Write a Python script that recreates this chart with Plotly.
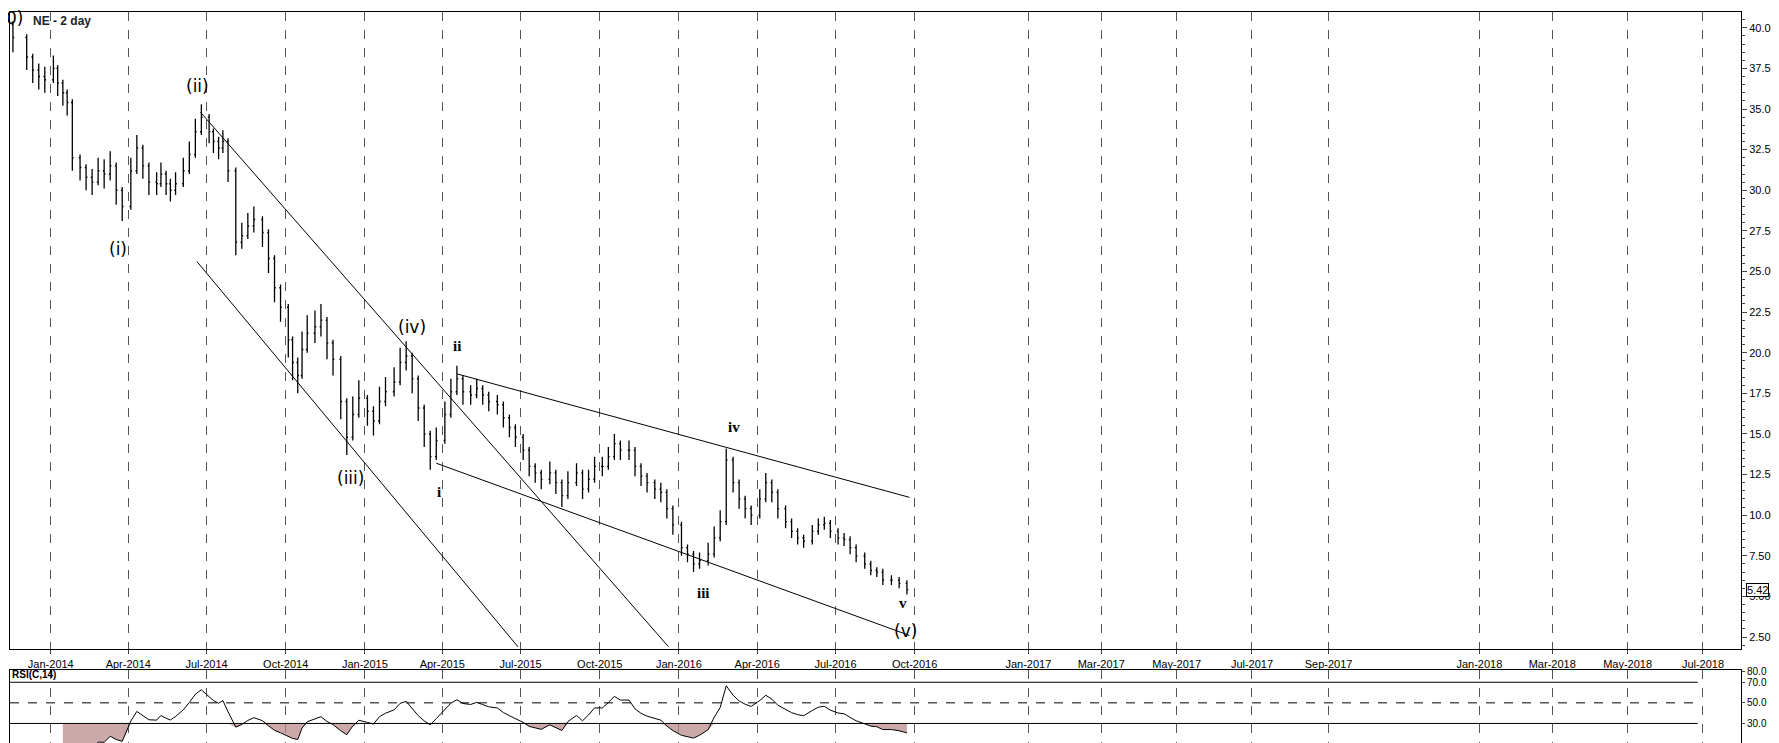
import pandas as pd
import numpy as np
import plotly.graph_objects as go

# weekly closes, grouped by month
months = ['2013-11', '2013-12', '2014-01', '2014-02', '2014-03', '2014-04', '2014-05', '2014-06',
          '2014-07', '2014-08', '2014-09', '2014-10', '2014-11', '2014-12', '2015-01', '2015-02',
          '2015-03', '2015-04', '2015-05', '2015-06', '2015-07', '2015-08', '2015-09', '2015-10',
          '2015-11', '2015-12', '2016-01', '2016-02', '2016-03', '2016-04', '2016-05', '2016-06',
          '2016-07', '2016-08', '2016-09']
closes = [
    [40.2, 39.4],
    [38.2, 37.4, 37.0, 36.8],
    [37.5, 36.6, 36.0, 35.4, 32.0],
    [31.4, 30.8, 30.5, 31.2],
    [31.0, 31.5, 30.0, 29.0],
    [31.2, 32.6, 31.5, 30.5],
    [30.4, 31.0, 30.4, 30.0, 30.4],
    [31.2, 32.2, 33.6, 34.5],
    [33.6, 33.0, 32.6, 33.0, 31.2],
    [26.8, 27.2, 27.8, 28.2],
    [27.4, 25.8, 24.0, 22.8],
    [20.8, 19.4, 18.6, 20.2, 21.2],
    [21.6, 22.0, 20.6, 19.6],
    [17.0, 14.8, 16.2, 17.2],
    [16.4, 15.8, 17.0, 17.6],
    [18.2, 19.4, 19.8, 18.4],
    [16.6, 15.0, 13.6, 14.6],
    [16.2, 17.6, 18.4, 17.6],
    [17.4, 17.8, 17.4, 17.0],
    [16.8, 16.0, 15.4, 14.8],
    [14.0, 13.0, 12.6, 12.2],
    [12.6, 12.0, 11.2, 12.0],
    [12.6, 11.6, 12.2, 13.0],
    [13.0, 13.6, 14.4, 14.0],
    [14.0, 13.0, 12.4, 12.0],
    [11.6, 11.4, 10.4, 9.4],
    [8.0, 7.6, 7.0, 7.2],
    [7.6, 8.6, 9.6, 13.4],
    [12.0, 11.0, 10.4, 10.0],
    [11.0, 12.0, 11.4, 10.4],
    [9.6, 9.0, 8.6, 8.4],
    [9.0, 9.4, 9.5, 9.0],
    [8.6, 8.5, 8.0, 7.5],
    [7.0, 6.6, 6.5, 6.0],
    [6.0, 5.8, 5.42],
]
# typical half bar range per month
bar_range = [0.9, 0.8, 0.8, 0.8, 0.9, 0.8, 0.7, 0.8, 0.7, 0.8, 0.9, 1.1, 1.0, 1.1, 0.9, 0.9,
             0.8, 0.8, 0.6, 0.6, 0.6, 0.7, 0.6, 0.6, 0.6, 0.6, 0.5, 0.7, 0.6, 0.6, 0.4, 0.4,
             0.4, 0.3, 0.3]

tick_labels = ['Jan-2014', 'Apr-2014', 'Jul-2014', 'Oct-2014', 'Jan-2015', 'Apr-2015', 'Jul-2015',
               'Oct-2015', 'Jan-2016', 'Apr-2016', 'Jul-2016', 'Oct-2016', 'Jan-2017', 'Mar-2017',
               'May-2017', 'Jul-2017', 'Sep-2017', 'Jan-2018', 'Mar-2018', 'May-2018', 'Jul-2018']

# wave labels: (date, price, text, style)
waves = [('2013-11-20', 40.6, '0)', 'p'), ('2014-03-20', 26.4, '(i)', 'p'), ('2014-06-20', 36.4, '(ii)', 'p'),
         ('2014-12-15', 12.3, '(iii)', 'p'), ('2015-02-25', 21.6, '(iv)', 'p'), ('2016-09-20', 2.9, '(v)', 'p'),
         ('2015-03-28', 11.4, 'i', 's'), ('2015-04-18', 20.4, 'ii', 's'), ('2016-01-30', 5.2, 'iii', 's'),
         ('2016-03-05', 15.4, 'iv', 's'), ('2016-09-18', 4.6, 'v', 's')]

# channel lines: start/end (date, price)
channels = [(('2014-06-24', 34.8), ('2015-12-20', 1.9)),
            (('2014-06-20', 25.6), ('2015-06-28', 1.9)),
            (('2015-04-18', 18.7), ('2016-09-25', 11.1)),
            (('2015-03-25', 13.2), ('2016-09-25', 2.6))]

BASE = pd.Timestamp('2014-01-01')
SPLIT = 1004


def xpos(d):
    days = (pd.Timestamp(d) - BASE).days
    if days <= SPLIT:
        return days * 0.759
    return SPLIT * 0.759 + (days - SPLIT) * 1.09


# spread weekly bars evenly through each month
xs, cl, hi, lo = [], [], [], []
for m, vals, r in zip(months, closes, bar_range):
    start = pd.Timestamp(m + '-01')
    for i, v in enumerate(vals):
        d = start + pd.Timedelta(days=int(3 + i * 28 / len(vals)))
        xs.append(xpos(d))
        cl.append(v)
        hi.append(v + r)
        lo.append(v - r)
op = [cl[0]] + cl[:-1]
hi = [max(h, o + 0.2) for h, o in zip(hi, op)]
lo = [min(l, o - 0.2) for l, o in zip(lo, op)]

# RSI on the weekly closes (smoothed to look like RSI(14) of 2-day bars)
s = pd.Series(cl)
delta = s.diff()
up = delta.clip(lower=0).ewm(alpha=1 / 10, adjust=False).mean()
dn = (-delta.clip(upper=0)).ewm(alpha=1 / 10, adjust=False).mean()
rsi = 100 - 100 / (1 + up / dn)
rsi.iloc[:8] = np.nan
rsi_low = np.where(rsi.isna(), np.nan, np.minimum(rsi, 30))
base30 = np.where(rsi.isna(), np.nan, 30)

fig = go.Figure()
fig.add_trace(go.Ohlc(x=xs, open=op, high=hi, low=lo, close=cl, xaxis='x', yaxis='y',
                      increasing=dict(line=dict(color='black', width=1.3)),
                      decreasing=dict(line=dict(color='black', width=1.3)),
                      tickwidth=0.3, showlegend=False, hoverinfo='skip'))
for (d0, p0), (d1, p1) in channels:
    fig.add_trace(go.Scatter(x=[xpos(d0), xpos(d1)], y=[p0, p1], mode='lines',
                             line=dict(color='black', width=1), showlegend=False, hoverinfo='skip'))

fig.add_trace(go.Scatter(x=xs, y=base30, mode='lines', line=dict(width=0),
                         xaxis='x2', yaxis='y2', showlegend=False, hoverinfo='skip'))
fig.add_trace(go.Scatter(x=xs, y=rsi_low, mode='lines', line=dict(width=0),
                         fill='tonexty', fillcolor='rgba(185,140,140,0.75)',
                         xaxis='x2', yaxis='y2', showlegend=False, hoverinfo='skip'))
fig.add_trace(go.Scatter(x=xs, y=rsi, mode='lines', line=dict(color='black', width=1),
                         xaxis='x2', yaxis='y2', showlegend=False, hoverinfo='skip'))

for d, p, t, st in waves:
    if st == 'p':
        f = dict(family='DejaVu Sans', size=17, color='black')
    else:
        f = dict(family='Liberation Serif', size=15, color='black')
        t = '<b>' + t + '</b>'
    fig.add_annotation(x=xpos(d), y=p, text=t, showarrow=False, font=f, xref='x', yref='y')

tv = [xpos(pd.to_datetime(l, format='%b-%Y')) for l in tick_labels]
xr = [-36, 1527 - 36]

fig.update_layout(
    width=1779, height=743, margin=dict(l=1, r=46, t=2, b=8),
    plot_bgcolor='white', paper_bgcolor='white',
    font=dict(family='Liberation Sans', size=11, color='black'),
    xaxis=dict(range=xr, domain=[0, 1], anchor='y', tickvals=tv, ticktext=tick_labels,
               rangeslider=dict(visible=False),
               showgrid=True, gridcolor='#555', griddash='dash', gridwidth=1,
               ticks='outside', ticklen=4, showline=True, linecolor='black', mirror=True,
               zeroline=False),
    yaxis=dict(range=[1.74, 40.97], domain=[0.128, 1], side='right', tickformat='.2f',
               dtick=2.5, showgrid=False, ticks='outside', ticklen=5, showline=True,
               linecolor='black', mirror=True, zeroline=False,
               minor=dict(dtick=0.5, ticks='outside', ticklen=3)),
    xaxis2=dict(range=xr, domain=[0, 1], anchor='y2', tickvals=tv, showticklabels=False,
                showgrid=True, gridcolor='#555', griddash='dash', showline=True,
                linecolor='black', mirror=True, zeroline=False),
    yaxis2=dict(range=[11, 82], domain=[0, 0.1], side='right', tickvals=[80, 70, 50, 30],
                tickformat='.1f', showgrid=False, ticks='outside', ticklen=3, showline=True,
                linecolor='black', mirror=True, zeroline=False, tickfont=dict(size=10)),
)
for lvl, dash in [(70, 'solid'), (50, 'dash'), (30, 'solid')]:
    fig.add_shape(type='line', xref='x2 domain', yref='y2', x0=0, x1=0.975, y0=lvl, y1=lvl,
                  line=dict(color='black', width=1, dash=dash))

fig.add_annotation(xref='paper', yref='paper', x=0.012, y=1.0, xanchor='left', yanchor='top',
                   text='<b>NE - 2 day</b>', showarrow=False, font=dict(size=12, color='#222'))
fig.add_annotation(xref='paper', yref='y2', x=0.0, y=78, xanchor='left', yanchor='middle',
                   text='<b>RSI(C,14)</b>', showarrow=False, font=dict(size=10))
fig.add_annotation(xref='paper', yref='y', x=1.003, y=5.42, xanchor='left', text='5.42',
                   showarrow=False, bgcolor='white', bordercolor='black', borderwidth=1,
                   font=dict(size=11), borderpad=0)
fig.add_annotation(xref='paper', yref='paper', x=1.0, y=0.0, xanchor='right', yanchor='top',
                   yshift=-1, text='<b>motivewave.com</b>', showarrow=False,
                   font=dict(size=8, color='#555'))

fig.write_html("out.html")
